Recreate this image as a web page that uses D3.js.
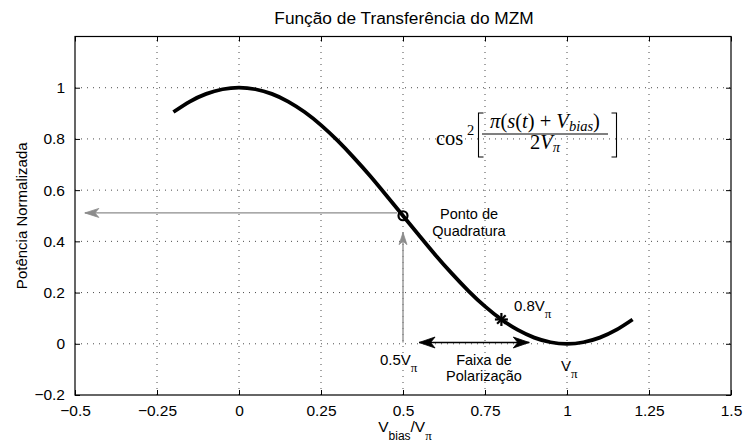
<!DOCTYPE html>
<html>
<head>
<meta charset="utf-8">
<script src="https://cdn.jsdelivr.net/npm/d3@7"></script>
<style>
  html, body { margin: 0; padding: 0; background: #fff; }
  svg { display: block; font-family: "Liberation Sans", Arial, Helvetica, sans-serif; }
  text { fill: #000; }
</style>
</head>
<body>
<svg id="chart" width="744" height="446"></svg>
<script>
// MZM transfer function samples: normalised bias voltage and normalised optical power
const biasV = [-0.2, -0.15, -0.1, -0.05, 0, 0.05, 0.1, 0.15, 0.2, 0.25, 0.3, 0.35, 0.4, 0.45,
               0.5, 0.55, 0.6, 0.65, 0.7, 0.75, 0.8, 0.85, 0.9, 0.95, 1.0, 1.05, 1.1, 1.15, 1.2];
const power = [0.905, 0.946, 0.976, 0.994, 1.000, 0.994, 0.976, 0.946, 0.905, 0.854, 0.794, 0.727,
               0.655, 0.578, 0.500, 0.422, 0.345, 0.273, 0.206, 0.146, 0.095, 0.054, 0.024, 0.006,
               0.000, 0.006, 0.024, 0.054, 0.095];

// Tick values
const xTicks = [-0.5, -0.25, 0, 0.25, 0.5, 0.75, 1, 1.25, 1.5];
const yTicks = [-0.2, 0, 0.2, 0.4, 0.6, 0.8, 1];

// Marked operating points
const quadPoint = [0.5, 0.5];
const point08 = [0.8, 0.095];

// Annotation arrows (data units): [x1, y1, x2, y2]
const powerArrow = [0.482, 0.511, -0.47, 0.511];
const biasArrow = [0.5, 0.005, 0.5, 0.434];
const rangeArrow = [0.549, 0.005, 0.885, 0.005];

const svg = d3.select("#chart");
const L = 75, R = 731, T = 36.5, B = 395;

const x = d3.scaleLinear().domain([-0.5, 1.5]).range([L, R]);
const y = d3.scaleLinear().domain([-0.2, 1.2]).range([B, T]);

const fmt = v => (v < 0 ? "\u2212" : "") + String(Math.abs(v));
const SANS = "Liberation Sans, Arial, sans-serif";
const SERIF = "Liberation Serif, DejaVu Serif, serif";

// Dotted grid
const grid = svg.append("g").attr("stroke", "#000").attr("stroke-width", 1)
  .attr("stroke-dasharray", "1,5").attr("opacity", 0.7);
xTicks.filter(v => v > -0.5 && v < 1.5).forEach(v => {
  grid.append("line").attr("x1", x(v)).attr("x2", x(v)).attr("y1", B).attr("y2", T);
});
yTicks.filter(v => v > -0.2).forEach(v => {
  grid.append("line").attr("x1", L).attr("x2", R).attr("y1", y(v)).attr("y2", y(v));
});

// Axes with inward ticks on all four sides
const tickLen = 5;
const xAxisB = d3.axisBottom(x).tickValues(xTicks).tickSizeInner(-tickLen).tickSizeOuter(0)
  .tickPadding(10).tickFormat(fmt);
const xAxisT = d3.axisTop(x).tickValues(xTicks).tickSizeInner(-tickLen).tickSizeOuter(0).tickFormat("");
const yAxisL = d3.axisLeft(y).tickValues(yTicks).tickSizeInner(-tickLen).tickSizeOuter(0)
  .tickPadding(10).tickFormat(fmt);
const yAxisR = d3.axisRight(y).tickValues(yTicks).tickSizeInner(-tickLen).tickSizeOuter(0).tickFormat("");

function styleAxis(g) {
  g.attr("font-family", SANS).attr("font-size", 15.5);
  g.select(".domain").remove();
  g.selectAll(".tick line").attr("stroke", "#000").attr("stroke-width", 1);
}
svg.append("g").attr("transform", `translate(0,${B})`).call(xAxisB).call(styleAxis);
svg.append("g").attr("transform", `translate(0,${T})`).call(xAxisT).call(styleAxis);
svg.append("g").attr("transform", `translate(${L},0)`).call(yAxisL).call(styleAxis);
svg.append("g").attr("transform", `translate(${R},0)`).call(yAxisR).call(styleAxis);

// Box
svg.append("rect").attr("x", L).attr("y", T).attr("width", R - L).attr("height", B - T)
  .attr("fill", "none").attr("stroke", "#000").attr("stroke-width", 1.2);

// Title and axis labels
svg.append("text").attr("x", (L + R) / 2 + 1).attr("y", 23.5).attr("text-anchor", "middle")
  .attr("font-size", 17.3).text("Função de Transferência do MZM");

svg.append("text").attr("transform", `translate(27,${(T + B) / 2}) rotate(-90)`)
  .attr("text-anchor", "middle").attr("font-size", 15).text("Potência Normalizada");

const xl = svg.append("text").attr("x", (L + R) / 2 + 2).attr("y", 432).attr("text-anchor", "middle")
  .attr("font-size", 15.5);
xl.append("tspan").text("V");
xl.append("tspan").attr("font-size", 12).attr("dy", 8).text("bias");
xl.append("tspan").attr("dy", -8).text("/V");
xl.append("tspan").attr("font-size", 13).attr("dy", 8).attr("font-family", SERIF).text("π");

// Arrowhead: tip at (0,0) pointing along +x
function arrowHead(g, x2, y2, angle, color, len, half) {
  g.append("path")
    .attr("d", `M0,0 L${-len},${-half} L${-len * 0.72},0 L${-len},${half} Z`)
    .attr("transform", `translate(${x2},${y2}) rotate(${angle})`)
    .attr("fill", color).attr("stroke", color).attr("stroke-width", 0.8)
    .attr("stroke-linejoin", "miter");
}
function arrow(a, color, both, len, half) {
  const g = svg.append("g");
  const x1 = x(a[0]), y1 = y(a[1]), x2 = x(a[2]), y2 = y(a[3]);
  g.append("line").attr("x1", x1).attr("y1", y1).attr("x2", x2).attr("y2", y2)
    .attr("stroke", color).attr("stroke-width", 1.3);
  const ang = Math.atan2(y2 - y1, x2 - x1) * 180 / Math.PI;
  arrowHead(g, x2, y2, ang, color, len, half);
  if (both) arrowHead(g, x1, y1, ang + 180, color, len, half);
}
arrow(powerArrow, "#8c8c8c", false, 14, 4.5);
arrow(biasArrow, "#8c8c8c", false, 12, 4);
arrow(rangeArrow, "#000", true, 16, 5.5);

// Transfer curve
const pts = biasV.map((v, i) => [v, power[i]]);
svg.append("path").datum(pts)
  .attr("d", d3.line().x(d => x(d[0])).y(d => y(d[1])).curve(d3.curveNatural))
  .attr("fill", "none").attr("stroke", "#000").attr("stroke-width", 3.8)
  .attr("stroke-linecap", "butt").attr("stroke-linejoin", "round");

// Quadrature point marker (circle)
svg.append("circle").attr("cx", x(quadPoint[0])).attr("cy", y(quadPoint[1])).attr("r", 4.5)
  .attr("fill", "none").attr("stroke", "#000").attr("stroke-width", 2.2);

// 0.8 V_pi marker (star)
{
  const cx = x(point08[0]), cy = y(point08[1]), s = 6.5, d = 4.3;
  const st = svg.append("g").attr("stroke", "#000").attr("stroke-width", 2.2);
  st.append("line").attr("x1", cx - s).attr("x2", cx + s).attr("y1", cy).attr("y2", cy);
  st.append("line").attr("x1", cx).attr("x2", cx).attr("y1", cy - s).attr("y2", cy + s);
  st.append("line").attr("x1", cx - d).attr("x2", cx + d).attr("y1", cy - d).attr("y2", cy + d);
  st.append("line").attr("x1", cx - d).attr("x2", cx + d).attr("y1", cy + d).attr("y2", cy - d);
}

// Text annotations
function label(px, py, parts, anchor, size) {
  const t = svg.append("text").attr("x", px).attr("y", py).attr("font-size", size || 14.5)
    .attr("text-anchor", anchor || "start");
  parts.forEach(p => {
    const s = t.append("tspan").text(p.t);
    if (p.sub) s.attr("font-size", 13).attr("dy", 7).attr("font-family", SERIF);
  });
  return t;
}
label(469, 219, [{t: "Ponto de"}], "middle");
label(469, 236, [{t: "Quadratura"}], "middle");
label(514, 311, [{t: "0.8V"}, {t: "π", sub: true}], "start", 15);
label(380, 365, [{t: "0.5V"}, {t: "π", sub: true}], "start", 15);
label(484, 365, [{t: "Faixa de"}], "middle");
label(484, 381, [{t: "Polarização"}], "middle");
label(561, 371, [{t: "V"}, {t: "π", sub: true}], "start", 15);

// Formula cos^2[ pi(s(t)+V_bias) / 2V_pi ]
{
  const f = svg.append("g").attr("font-family", SERIF);
  const fx = 545, fline = 134, fs = 20.5, ss = 14.5;
  f.append("text").attr("x", 436).attr("y", 145).attr("font-size", fs).text("cos");
  f.append("text").attr("x", 467).attr("y", 135).attr("font-size", ss).text("2");
  // brackets
  f.append("path").attr("d", "M483.5,113 L478.5,113 L478.5,157 L483.5,157")
    .attr("fill", "none").attr("stroke", "#000").attr("stroke-width", 1.1);
  f.append("path").attr("d", "M611.5,113 L616.5,113 L616.5,157 L611.5,157")
    .attr("fill", "none").attr("stroke", "#000").attr("stroke-width", 1.1);
  // fraction line
  f.append("line").attr("x1", 482).attr("x2", 608).attr("y1", fline).attr("y2", fline)
    .attr("stroke", "#000").attr("stroke-width", 1);
  const num = f.append("text").attr("x", fx).attr("y", 128).attr("text-anchor", "middle")
    .attr("font-size", fs);
  num.append("tspan").attr("font-style", "italic").text("π");
  num.append("tspan").text("(");
  num.append("tspan").attr("font-style", "italic").text("s");
  num.append("tspan").text("(");
  num.append("tspan").attr("font-style", "italic").text("t");
  num.append("tspan").text(") + ");
  num.append("tspan").attr("font-style", "italic").text("V");
  num.append("tspan").attr("font-style", "italic").attr("font-size", ss).attr("dy", 3).text("bias");
  num.append("tspan").attr("dy", -3).text(")");
  const den = f.append("text").attr("x", fx).attr("y", 149).attr("text-anchor", "middle")
    .attr("font-size", fs);
  den.append("tspan").text("2");
  den.append("tspan").attr("font-style", "italic").text("V");
  den.append("tspan").attr("font-style", "italic").attr("font-size", ss).attr("dy", 3).text("π");
}
</script>
</body>
</html>
